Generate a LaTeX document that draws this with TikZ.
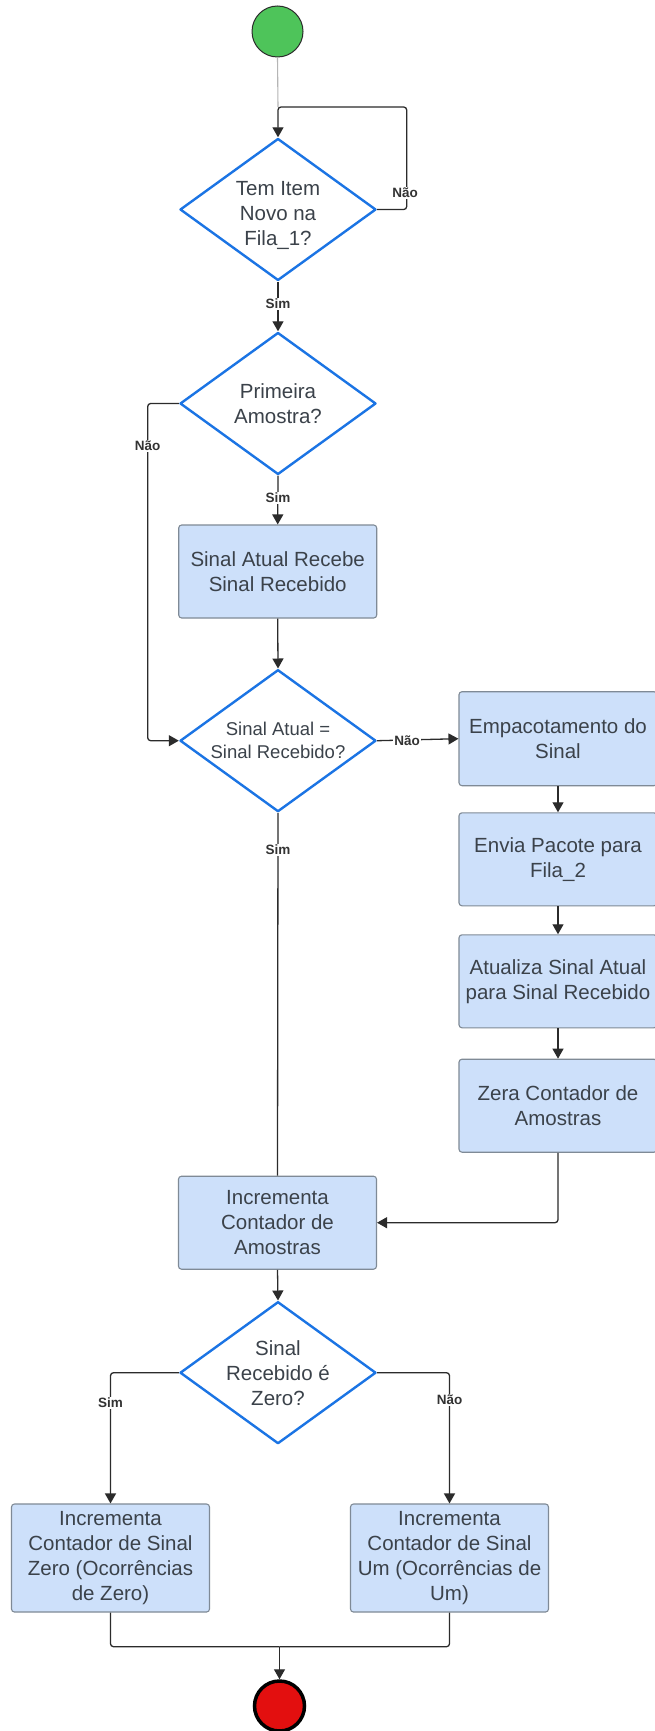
\documentclass[tikz,border=0pt]{standalone}
\usepackage{fontspec}
\setmainfont{Liberation Sans}
\usetikzlibrary{shapes.geometric,arrows.meta}
\definecolor{txtc}{HTML}{3B424A}
\definecolor{lblc}{HTML}{333333}
\definecolor{linec}{HTML}{2B2B2B}
\definecolor{startline}{HTML}{B5B5B5}
\definecolor{decblue}{HTML}{1B74E4}
\definecolor{boxfill}{HTML}{CDE0FA}
\definecolor{boxline}{HTML}{7F8A96}
\definecolor{startfill}{HTML}{4EC45A}
\definecolor{endfill}{HTML}{E30F0F}
\begin{document}
\begin{tikzpicture}[x=1pt,y=-1pt,
  conn/.style={draw=linec, line width=1.3pt, rounded corners=3pt},
  arr/.style={conn, -{Triangle[length=10pt,width=11pt]}},
  decision/.style={diamond, draw=decblue, line width=2.4pt, fill=white,
    minimum width=196pt, minimum height=142pt, inner sep=0pt, line join=round},
  dtext/.style={align=center, text=txtc, inner sep=0pt,
    font=\fontsize{20.5}{25}\selectfont},
  stepbox/.style={rectangle, draw=boxline, line width=1.1pt, fill=boxfill,
    rounded corners=3pt, minimum width=198pt, minimum height=93pt,
    inner sep=0pt, align=center, text=txtc,
    font=\fontsize{20.5}{25}\selectfont},
  lbl/.style={fill=white, text=lblc, inner sep=1pt,
    font=\bfseries\fontsize{13.5}{14}\selectfont},
]
\useasboundingbox (0,0) rectangle (654,1731);
\fill[white] (0,0) rectangle (654,1731);

% start and end points
\node[circle, draw=linec, line width=1pt, fill=startfill, minimum size=51pt, inner sep=0pt] (start) at (277.5,31.5) {};
\node[circle, draw=black, line width=3.5pt, fill=endfill, minimum size=50pt, inner sep=0pt] (end) at (279.5,1706) {};

% decisions
\node[decision] (d1) at (278,209.5) {};
\node[dtext, yshift=-6pt] (t1) at (d1) {Tem Item\\Novo na\\Fila\_1?};
\node[decision] (d2) at (278,403.5) {};
\node[dtext] (t2) at (d2) {Primeira\\Amostra?};
\node[decision] (d3) at (278,740.7) {};
\node[dtext, font=\fontsize{18.5}{23}\selectfont] (t3) at (d3) {Sinal Atual =\\Sinal Recebido?};
\node[decision] (d4) at (278,1372.7) {};
\node[dtext] (t4) at (d4) {Sinal\\Recebido é\\Zero?};

% process steps
\node[stepbox] (b1) at (277.7,571.5) {Sinal Atual Recebe\\Sinal Recebido};
\node[stepbox, minimum height=94pt] (e1) at (558,738.7) {Empacotamento do\\Sinal};
\node[stepbox] (e2) at (558,859.3) {Envia Pacote para\\Fila\_2};
\node[stepbox] (e3) at (558,981.3) {Atualiza Sinal Atual\\para Sinal Recebido};
\node[stepbox] (e4) at (558,1105.7) {Zera Contador de\\Amostras};
\node[stepbox] (b2) at (277.5,1222.7) {Incrementa\\Contador de\\Amostras};
\node[stepbox, minimum height=108pt] (z0) at (110.5,1558) {Incrementa\\Contador de Sinal\\Zero (Ocorrências\\de Zero)};
\node[stepbox, minimum height=108pt] (z1) at (449.5,1558) {Incrementa\\Contador de Sinal\\Um (Ocorrências de\\Um)};

% bend points of the connectors
\coordinate (loop) at (278,107);
\coordinate (loopr) at (406.7,107);
\coordinate (nleft) at (147.7,740.7);
\coordinate (merge) at (279.5,1646.7);

% connectors
\draw[draw=startline, line width=1.1pt] (start.south) -- (loop);
\draw[arr] (d1.east) -| (loopr) -- (loop) -- (d1.north);
\draw[arr] (d1.south) -- (d2.north);
\draw[arr] (d2.west) -| (nleft) -- (d3.west);
\draw[arr] (d2.south) -- (b1.north);
\draw[arr] (b1.south) -- (d3.north);
\draw[arr] (d3.east) -- (e1.west);
\draw[arr] (e1.south) -- (e2.north);
\draw[arr] (e2.south) -- (e3.north);
\draw[arr] (e3.south) -- (e4.north);
\draw[arr] (e4.south) |- (b2.east);
\draw[conn] (d3.south) -- (b2.north);
\draw[arr] (b2.south) -- (d4.north);
\draw[arr] (d4.west) -| (z0.north);
\draw[arr] (d4.east) -| (z1.north);
\draw[conn] (z0.south) |- (merge);
\draw[conn] (z1.south) |- (merge);
\draw[arr] (merge) -- (end.north);

% branch labels
\node[lbl] (l1) at (405,193) {Não};
\node[lbl] (l2) at (278,304) {Sim};
\node[lbl] (l3) at (147.7,446) {Não};
\node[lbl] (l4) at (278,498) {Sim};
\node[lbl] (l5) at (407,740.7) {Não};
\node[lbl] (l6) at (278,850) {Sim};
\node[lbl] (l7) at (110.5,1403) {Sim};
\node[lbl] (l8) at (449.5,1400) {Não};
\end{tikzpicture}
\end{document}
